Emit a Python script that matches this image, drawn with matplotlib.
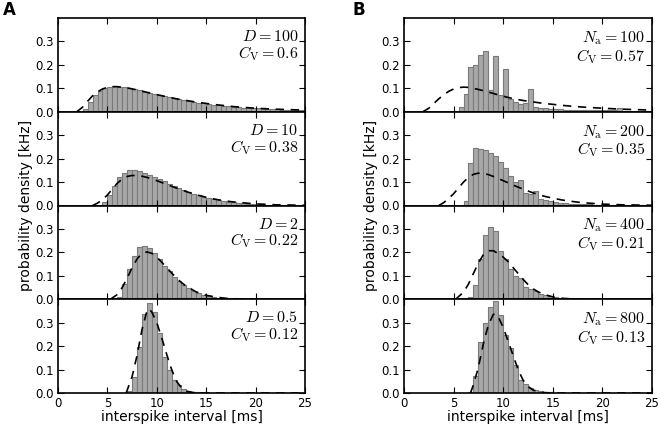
import numpy as np
import matplotlib.pyplot as plt

plt.rcParams['mathtext.fontset'] = 'cm'
plt.rcParams['font.family'] = 'DejaVu Sans'

# --- data (bin width 0.5 ms) ---
bin_width = 0.5

# Panel A: noise intensity D
labels_a = [r"$D=100$" + "\n" + r"$C_\mathrm{V}=0.6$",
            r"$D=10$" + "\n" + r"$C_\mathrm{V}=0.38$",
            r"$D=2$" + "\n" + r"$C_\mathrm{V}=0.22$",
            r"$D=0.5$" + "\n" + r"$C_\mathrm{V}=0.12$"]

start_a1 = 2.5
hist_a1 = [0.01, 0.04, 0.07, 0.09, 0.1, 0.106, 0.108, 0.107, 0.104, 0.1, 0.096,
           0.091, 0.086, 0.081, 0.076, 0.071, 0.066, 0.061, 0.057, 0.053, 0.049,
           0.045, 0.042, 0.039, 0.036, 0.033, 0.03, 0.028, 0.026, 0.024, 0.022,
           0.02, 0.018, 0.017, 0.016, 0.014, 0.013, 0.012, 0.011, 0.01, 0.009,
           0.008, 0.008, 0.007, 0.006]
curve_a1_x = [1.9, 2.5, 3, 3.5, 4, 4.5, 5, 5.5, 6, 7, 8, 9, 10, 12, 14, 16, 18, 20, 22, 25]
curve_a1_y = [0, 0.02, 0.045, 0.068, 0.085, 0.097, 0.104, 0.107, 0.107, 0.102, 0.093,
              0.083, 0.073, 0.055, 0.041, 0.03, 0.021, 0.015, 0.011, 0.007]

start_a2 = 4.5
hist_a2 = [0.015, 0.044, 0.083, 0.12, 0.14, 0.151, 0.151, 0.147, 0.14, 0.132, 0.123,
           0.113, 0.103, 0.093, 0.083, 0.074, 0.066, 0.058, 0.05, 0.043, 0.037,
           0.032, 0.027, 0.022, 0.019, 0.016, 0.013, 0.011, 0.009, 0.007, 0.006,
           0.005, 0.004, 0.003, 0.003, 0.002, 0.002, 0.001, 0.001]
curve_a2_x = [3.5, 4, 4.5, 5, 5.5, 6, 6.5, 7, 7.5, 8, 8.5, 9, 10, 11, 12, 13, 14, 15,
              16, 17, 18, 20, 22, 25]
curve_a2_y = [0, 0.01, 0.025, 0.045, 0.07, 0.095, 0.113, 0.124, 0.128, 0.128, 0.125,
              0.12, 0.106, 0.09, 0.074, 0.059, 0.046, 0.035, 0.026, 0.019, 0.014,
              0.007, 0.003, 0.001]

start_a3 = 6.0
hist_a3 = [0.01, 0.065, 0.13, 0.185, 0.225, 0.228, 0.218, 0.197, 0.171, 0.144, 0.121,
           0.097, 0.076, 0.059, 0.046, 0.034, 0.026, 0.019, 0.013, 0.009, 0.006,
           0.004, 0.003, 0.002, 0.001]
curve_a3_x = [5.3, 6, 6.5, 7, 7.5, 8, 8.5, 9, 9.5, 10, 10.5, 11, 11.5, 12, 12.5, 13,
              14, 15, 16, 17, 18, 20, 25]
curve_a3_y = [0, 0.02, 0.05, 0.09, 0.135, 0.172, 0.195, 0.202, 0.196, 0.18, 0.158,
              0.135, 0.112, 0.09, 0.071, 0.055, 0.031, 0.017, 0.009, 0.004, 0.002,
              0.0005, 0]

start_a4 = 7.0
hist_a4 = [0.008, 0.069, 0.197, 0.336, 0.386, 0.344, 0.257, 0.154, 0.1, 0.057, 0.033,
           0.019, 0.01, 0.005, 0.003, 0.002]
curve_a4_x = [6.9, 7.5, 8, 8.5, 9, 9.2, 9.5, 10, 10.5, 11, 11.5, 12, 12.5, 13, 13.5,
              14, 15, 25]
curve_a4_y = [0, 0.07, 0.16, 0.27, 0.35, 0.36, 0.345, 0.3, 0.235, 0.165, 0.1, 0.05,
              0.022, 0.008, 0.003, 0.001, 0, 0]

# Panel B: number of afferents N_a
labels_b = [r"$N_\mathrm{a}=100$" + "\n" + r"$C_\mathrm{V}=0.57$",
            r"$N_\mathrm{a}=200$" + "\n" + r"$C_\mathrm{V}=0.35$",
            r"$N_\mathrm{a}=400$" + "\n" + r"$C_\mathrm{V}=0.21$",
            r"$N_\mathrm{a}=800$" + "\n" + r"$C_\mathrm{V}=0.13$"]

start_b1 = 5.5
hist_b1 = [0.02, 0.076, 0.19, 0.2, 0.243, 0.26, 0.093, 0.238, 0.07, 0.183, 0.055,
           0.04, 0.033, 0.036, 0.098, 0.02, 0.017, 0.014, 0.012, 0.011, 0.01, 0.009,
           0.009, 0.008, 0.008, 0.007, 0.007, 0.007, 0.006, 0.006, 0.006, 0.006,
           0.015, 0.005, 0.004, 0.004, 0.004, 0.003, 0.003]
curve_b1_x = [1.9, 2.5, 3, 3.5, 4, 4.5, 5, 5.5, 6, 6.5, 7, 8, 9, 10, 11, 12, 13, 14,
              16, 18, 20, 22, 25]
curve_b1_y = [0, 0.015, 0.035, 0.055, 0.072, 0.087, 0.097, 0.103, 0.105, 0.104, 0.1,
              0.09, 0.078, 0.066, 0.056, 0.048, 0.042, 0.036, 0.027, 0.02, 0.015,
              0.011, 0.007]

start_b2 = 6.0
hist_b2 = [0.02, 0.18, 0.244, 0.242, 0.237, 0.226, 0.211, 0.187, 0.16, 0.125, 0.1,
           0.107, 0.055, 0.05, 0.063, 0.028, 0.022, 0.018, 0.014, 0.011, 0.009, 0.008,
           0.007, 0.006, 0.005, 0.005, 0.004, 0.004, 0.003, 0.003, 0.003, 0.002,
           0.002, 0.002, 0.002, 0.002, 0.001, 0.001]
curve_b2_x = [3.5, 4, 4.5, 5, 5.5, 6, 6.5, 7, 7.5, 8, 8.5, 9, 10, 11, 12, 13, 14, 15,
              16, 17, 18, 20, 22, 25]
curve_b2_y = [0, 0.012, 0.03, 0.05, 0.075, 0.1, 0.12, 0.133, 0.138, 0.137, 0.132,
              0.124, 0.106, 0.087, 0.07, 0.054, 0.041, 0.031, 0.023, 0.017, 0.012,
              0.006, 0.003, 0.001]

start_b3 = 6.5
hist_b3 = [0.01, 0.06, 0.172, 0.275, 0.308, 0.29, 0.205, 0.17, 0.13, 0.1, 0.09, 0.052,
           0.045, 0.034, 0.024, 0.017, 0.012, 0.009, 0.006, 0.005, 0.004, 0.003,
           0.002, 0.002, 0.001, 0.001]
curve_b3_x = [5.2, 6, 6.5, 7, 7.5, 8, 8.5, 9, 9.5, 10, 10.5, 11, 11.5, 12, 12.5, 13,
              13.5, 14, 15, 16, 17, 25]
curve_b3_y = [0, 0.03, 0.065, 0.11, 0.155, 0.19, 0.207, 0.207, 0.195, 0.18, 0.16,
              0.135, 0.11, 0.085, 0.063, 0.045, 0.032, 0.022, 0.01, 0.004, 0.001, 0]

start_b4 = 6.5
hist_b4 = [0.005, 0.071, 0.219, 0.297, 0.369, 0.393, 0.333, 0.247, 0.19, 0.119, 0.057,
           0.037, 0.023, 0.014, 0.009, 0.005, 0.003, 0.002]
curve_b4_x = [6.7, 7, 7.5, 8, 8.5, 9, 9.2, 9.5, 10, 10.5, 11, 11.5, 12, 12.5, 13,
              13.5, 14, 15, 25]
curve_b4_y = [0, 0.035, 0.11, 0.21, 0.29, 0.335, 0.338, 0.325, 0.28, 0.22, 0.16, 0.1,
              0.055, 0.028, 0.013, 0.006, 0.002, 0, 0]

panel_a = [(start_a1, hist_a1, curve_a1_x, curve_a1_y),
           (start_a2, hist_a2, curve_a2_x, curve_a2_y),
           (start_a3, hist_a3, curve_a3_x, curve_a3_y),
           (start_a4, hist_a4, curve_a4_x, curve_a4_y)]
panel_b = [(start_b1, hist_b1, curve_b1_x, curve_b1_y),
           (start_b2, hist_b2, curve_b2_x, curve_b2_y),
           (start_b3, hist_b3, curve_b3_x, curve_b3_y),
           (start_b4, hist_b4, curve_b4_x, curve_b4_y)]

# --- figure ---
W, H = 661, 426
fig = plt.figure(figsize=(W / 100, H / 100), dpi=100)

top_px, bot_px = 18, 393
row_h = (bot_px - top_px) / 4


def draw_panel(left_px, right_px, rows, labels):
    for i, (start, heights, cx, cy) in enumerate(rows):
        y0 = top_px + (i + 1) * row_h
        ax = fig.add_axes([left_px / W, 1 - y0 / H, (right_px - left_px) / W, row_h / H])
        lefts = start + bin_width * np.arange(len(heights))
        ax.bar(lefts, heights, width=bin_width, align='edge',
               facecolor='#a8a8a8', edgecolor='#7a7a7a', linewidth=0.8)
        ax.plot(cx, cy, color='black', linestyle=(0, (5, 4)), linewidth=1.2)
        ax.set_xlim(0, 25)
        ax.set_ylim(0, 0.4)
        ax.set_yticks([0.0, 0.1, 0.2, 0.3])
        ax.set_xticks([0, 5, 10, 15, 20, 25])
        ax.tick_params(direction='in', top=True, right=True, length=4, width=0.8,
                       labelsize=8.5, pad=3)
        for sp in ax.spines.values():
            sp.set_linewidth(1.2)
        if i < 3:
            ax.tick_params(labelbottom=False)
        else:
            ax.set_xlabel("interspike interval [ms]", fontsize=10, labelpad=0)
        ax.text(0.972, 0.88, labels[i], transform=ax.transAxes, ha='right', va='top',
                fontsize=11.5, linespacing=1.0)


draw_panel(58, 305, panel_a, labels_a)
draw_panel(404, 652, panel_b, labels_b)

mid_y = 1 - (top_px + bot_px) / 2 / H
fig.text(26 / W, mid_y, "probability density [kHz]", rotation=90, ha='center', va='center', fontsize=10)
fig.text(371 / W, mid_y, "probability density [kHz]", rotation=90, ha='center', va='center', fontsize=10)

fig.text(3 / W, 1 - 10 / H, "A", fontsize=12, fontweight='bold', ha='left', va='center')
fig.text(352 / W, 1 - 10 / H, "B", fontsize=12, fontweight='bold', ha='left', va='center')

fig.savefig("out.png", dpi=100)
